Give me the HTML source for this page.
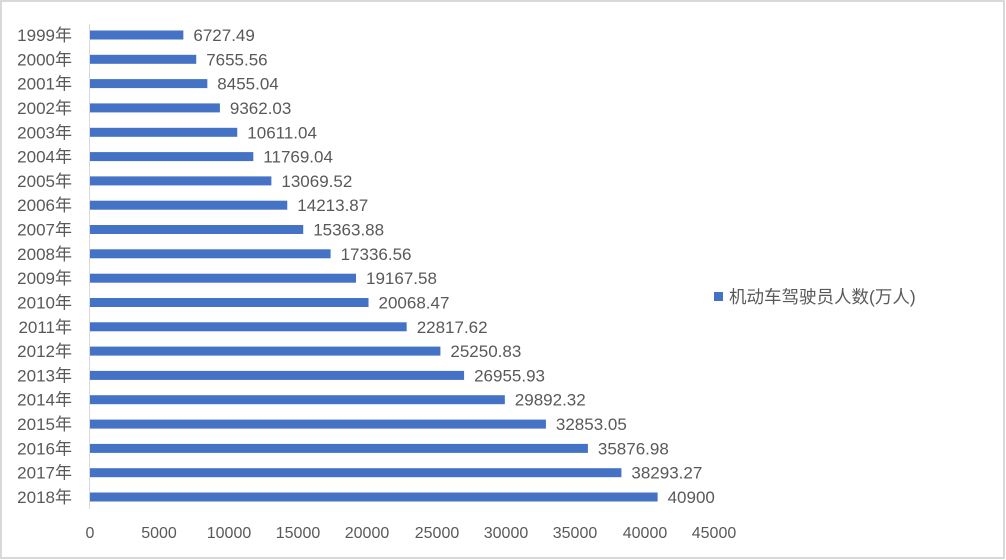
<!DOCTYPE html>
<html><head><meta charset="utf-8"><style>
html,body{margin:0;padding:0;background:#fff}
svg{display:block}
text{font-family:"Liberation Sans","Noto Sans CJK SC",sans-serif;fill:#595959;font-size:16px}
.v{font-size:17px}
.y{font-size:17px}
.l{font-size:17.5px}
</style></head><body>
<svg width="1006" height="560" xmlns="http://www.w3.org/2000/svg">
<rect x="1" y="1" width="1003" height="557" fill="#fff" stroke="#d9d9d9" stroke-width="2"/>
<line x1="89.5" y1="24" x2="89.5" y2="509" stroke="#d9d9d9" stroke-width="1"/>
<g fill="#4472c4">
<rect x="90" y="30.5" width="93.36" height="9"/>
<rect x="90" y="54.8" width="106.24" height="9"/>
<rect x="90" y="79.1" width="117.34" height="9"/>
<rect x="90" y="103.4" width="129.92" height="9"/>
<rect x="90" y="127.8" width="147.26" height="9"/>
<rect x="90" y="152.1" width="163.33" height="9"/>
<rect x="90" y="176.4" width="181.38" height="9"/>
<rect x="90" y="200.7" width="197.26" height="9"/>
<rect x="90" y="225.0" width="213.22" height="9"/>
<rect x="90" y="249.3" width="240.59" height="9"/>
<rect x="90" y="273.7" width="266.00" height="9"/>
<rect x="90" y="298.0" width="278.51" height="9"/>
<rect x="90" y="322.3" width="316.66" height="9"/>
<rect x="90" y="346.6" width="350.42" height="9"/>
<rect x="90" y="370.9" width="374.09" height="9"/>
<rect x="90" y="395.2" width="414.84" height="9"/>
<rect x="90" y="419.6" width="455.93" height="9"/>
<rect x="90" y="443.9" width="497.89" height="9"/>
<rect x="90" y="468.2" width="531.42" height="9"/>
<rect x="90" y="492.5" width="567.60" height="9"/>
</g>
<g text-anchor="end">
<text class="y" x="72" y="41">1999年</text>
<text class="y" x="72" y="65.3">2000年</text>
<text class="y" x="72" y="89.6">2001年</text>
<text class="y" x="72" y="113.9">2002年</text>
<text class="y" x="72" y="138.3">2003年</text>
<text class="y" x="72" y="162.6">2004年</text>
<text class="y" x="72" y="186.9">2005年</text>
<text class="y" x="72" y="211.2">2006年</text>
<text class="y" x="72" y="235.5">2007年</text>
<text class="y" x="72" y="259.8">2008年</text>
<text class="y" x="72" y="284.2">2009年</text>
<text class="y" x="72" y="308.5">2010年</text>
<text class="y" x="72" y="332.8">2011年</text>
<text class="y" x="72" y="357.1">2012年</text>
<text class="y" x="72" y="381.4">2013年</text>
<text class="y" x="72" y="405.7">2014年</text>
<text class="y" x="72" y="430.1">2015年</text>
<text class="y" x="72" y="454.4">2016年</text>
<text class="y" x="72" y="478.7">2017年</text>
<text class="y" x="72" y="503">2018年</text>
</g>
<g>
<text class="v" x="193.4" y="41">6727.49</text>
<text class="v" x="206.2" y="65.3">7655.56</text>
<text class="v" x="217.3" y="89.6">8455.04</text>
<text class="v" x="229.9" y="113.9">9362.03</text>
<text class="v" x="247.3" y="138.3">10611.04</text>
<text class="v" x="263.3" y="162.6">11769.04</text>
<text class="v" x="281.4" y="186.9">13069.52</text>
<text class="v" x="297.3" y="211.2">14213.87</text>
<text class="v" x="313.2" y="235.5">15363.88</text>
<text class="v" x="340.6" y="259.8">17336.56</text>
<text class="v" x="366.0" y="284.2">19167.58</text>
<text class="v" x="378.5" y="308.5">20068.47</text>
<text class="v" x="416.7" y="332.8">22817.62</text>
<text class="v" x="450.4" y="357.1">25250.83</text>
<text class="v" x="474.1" y="381.4">26955.93</text>
<text class="v" x="514.8" y="405.7">29892.32</text>
<text class="v" x="555.9" y="430.1">32853.05</text>
<text class="v" x="597.9" y="454.4">35876.98</text>
<text class="v" x="631.4" y="478.7">38293.27</text>
<text class="v" x="667.6" y="503">40900</text>
</g>
<g text-anchor="middle">
<text x="90" y="538">0</text><text x="159" y="538">5000</text><text x="229" y="538">10000</text><text x="298" y="538">15000</text><text x="367" y="538">20000</text><text x="437" y="538">25000</text><text x="506" y="538">30000</text><text x="575" y="538">35000</text><text x="645" y="538">40000</text><text x="714" y="538">45000</text>
</g>
<rect x="714" y="292" width="9" height="9" fill="#4472c4"/>
<text class="l" x="729" y="303">机动车驾驶员人数(万人)</text>
</svg>
</body></html>
